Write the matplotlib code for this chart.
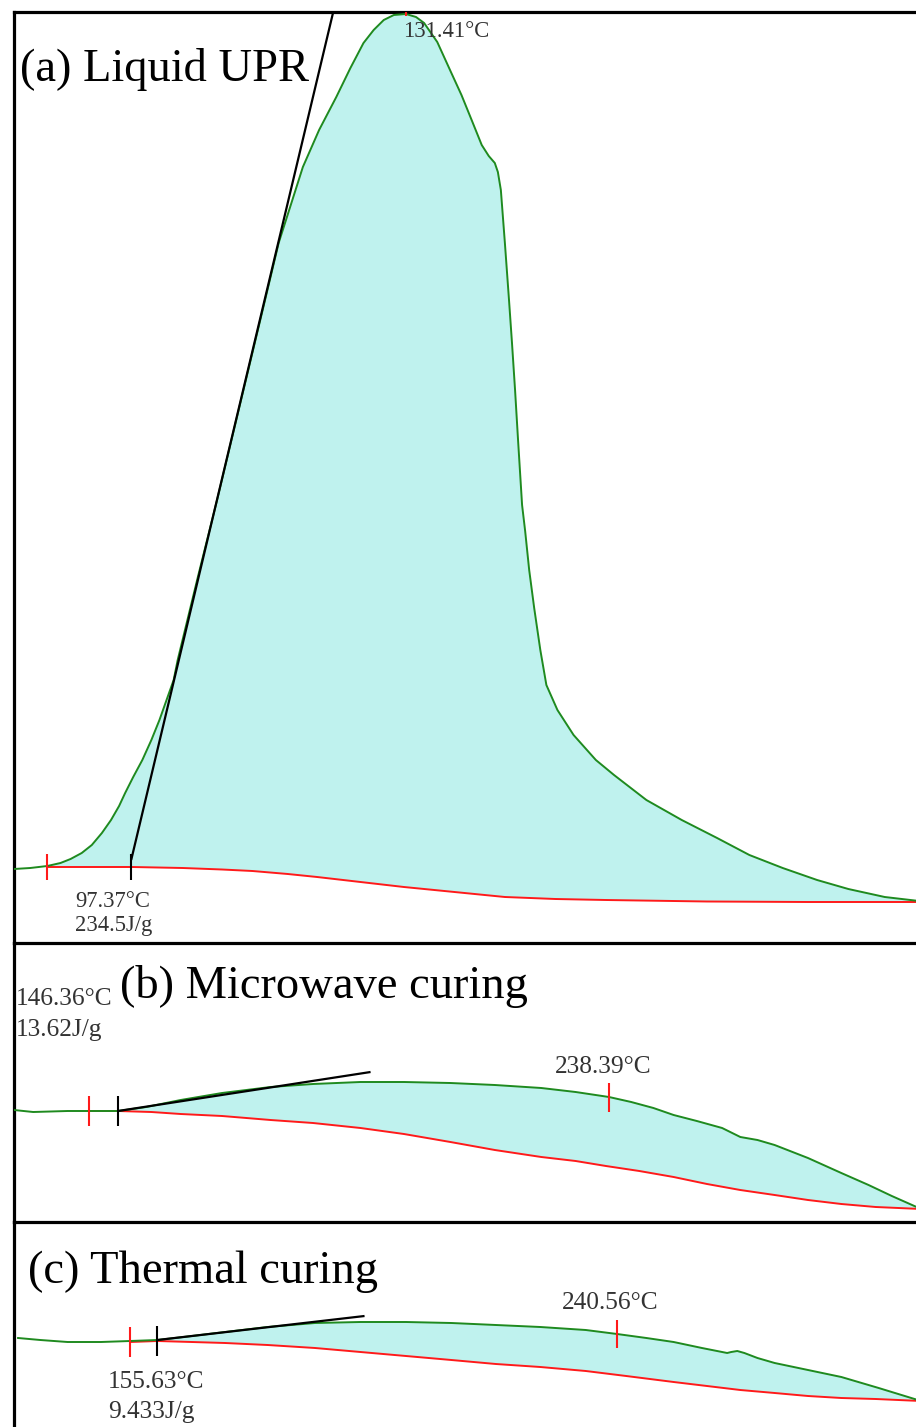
import numpy as np
import matplotlib
matplotlib.use("Agg")
import matplotlib.pyplot as plt

plt.rcParams['font.family'] = ['Liberation Serif', 'DejaVu Serif']

# ---------------- data (temperature in °C, heat flow in arbitrary units) ----------------
# (a) Liquid UPR
a_curve_T = [82.85, 84.86, 86.98, 88.61, 89.86, 91.24, 92.49, 93.74, 94.87, 95.87,
             96.62, 97.62, 98.75, 99.87, 100.87, 101.75, 102.63, 103.13, 105.63, 108.01,
             111.01, 113.51, 115.64, 117.14, 118.64, 120.65, 122.78, 124.53, 126.15, 127.41,
             128.66, 129.91, 131.41, 132.66, 133.66, 135.29, 137.04, 138.29, 139.55, 140.80,
             141.67, 142.42, 142.80, 143.17, 143.67, 144.18, 144.55, 144.93, 145.30, 145.80,
             146.18, 146.68, 147.30, 148.06, 148.81, 150.18, 152.18, 154.94, 157.19, 161.20,
             165.58, 169.96, 173.96, 178.09, 182.35, 186.22, 190.73, 194.98, 195.74]
a_curve_H = [74, 75, 77, 80, 84, 90, 98, 110, 123, 137,
             150, 166, 183, 203, 223, 243, 263, 283, 366, 443,
             544, 628, 700, 738, 776, 813, 846, 875, 900, 913,
             923, 928, 929, 926, 920, 901, 870, 848, 823, 798,
             787, 780, 771, 753, 700, 643, 600, 553, 503, 438,
             412, 373, 335, 293, 258, 233, 208, 183, 168, 143,
             123, 105, 88, 75, 63, 54, 46, 42, 41]
a_base_T = [86.98, 92.36, 97.50, 103.75, 108.63, 112.39, 116.77, 120.40, 125.78, 131.16,
            137.42, 143.67, 149.93, 156.19, 168.70, 181.22, 194.98]
a_base_H = [76, 76, 76, 75, 73.5, 72, 69, 66, 61, 56, 51, 46, 44, 43, 41.5, 41, 41]
a_onset_T, a_onset_label, a_enthalpy = 97.37, "97.37°C", "234.5J/g"
a_peak_T, a_peak_label = 131.41, "131.41°C"
a_tangent_T = [97.37, 122.40]
a_tangent_H = [83, 931]
a_limits_T = [86.98, 194.98]

# (b) Microwave curing
b_curve_T = [126.86, 130.45, 136.89, 140.87, 146.36, 151.66, 158.10, 165.86, 174.95, 182.91,
             191.81, 199.95, 208.66, 216.99, 225.70, 232.14, 238.39, 242.56, 246.72, 250.51,
             254.86, 259.60, 263.01, 266.23, 269.44, 275.69, 281.94, 287.05, 291.41, 296.90]
b_curve_H = [112, 110, 111, 111, 111, 115, 122, 129, 135, 138,
             140, 140, 139, 137, 134, 130, 125, 120, 114, 107,
             101, 94, 85, 82, 77, 64, 49, 37, 26, 13]
b_base_T = [140.87, 146.36, 152.61, 158.10, 165.86, 174.95, 182.91, 191.81, 199.95, 208.66,
            216.99, 225.70, 232.14, 237.82, 244.07, 250.51, 256.76, 263.00, 269.44, 275.69,
            281.94, 288.38, 296.90]
b_base_H = [111, 111, 110, 108, 106, 102, 99, 94, 88, 80,
            72, 65, 61, 56, 51, 45, 38, 32, 27, 22,
            18, 15, 13]
b_onset_T, b_onset_label, b_enthalpy = 146.36, "146.36°C", "13.62J/g"
b_peak_T, b_peak_label = 238.39, "238.39°C"
b_tangent_T = [146.36, 193.70]
b_tangent_H = [111, 150]
b_limits_T = [140.87, 296.90]

# (c) Thermal curing
c_curve_T = [129.87, 133.98, 139.02, 145.18, 150.59, 155.63, 161.98, 168.14, 175.98, 184.75,
             193.15, 201.55, 209.95, 218.16, 226.38, 234.78, 240.56, 245.98, 251.02, 256.25,
             260.91, 261.66, 262.78, 264.09, 266.51, 269.69, 275.85, 282.01, 288.91, 296.75]
c_curve_H = [89, 87, 85, 85, 86, 87, 91, 95, 100, 104,
             105, 105, 104, 102, 100, 97, 93, 89, 85, 79,
             74, 75, 76, 74, 69, 64, 57, 50, 39, 26]
c_base_T = [150.59, 155.63, 161.98, 168.14, 175.98, 184.75, 193.15, 201.55, 209.95, 218.16,
            226.38, 234.78, 242.25, 251.02, 257.18, 263.34, 269.69, 275.85, 282.01, 288.35,
            296.75]
c_base_H = [85, 86, 85, 84, 82, 79, 75, 71, 67, 63,
            60, 56, 51, 45, 41, 37, 34, 31, 29, 28,
            26]
c_onset_T, c_onset_label, c_enthalpy = 155.63, "155.63°C", "9.433J/g"
c_peak_T, c_peak_label = 240.56, "240.56°C"
c_tangent_T = [155.63, 193.90]
c_tangent_H = [87, 111]
c_limits_T = [150.59, 296.75]

titles = ["(a) Liquid UPR", "(b) Microwave curing", "(c) Thermal curing"]

# ---------------- styling ----------------
W, H = 916, 1427
GREEN = "#1f8a1f"
RED = "#ff1a1a"
FILL = "#bff2ee"
TXT = "#333333"

fig = plt.figure(figsize=(W / 100, H / 100), dpi=100)


def make_ax(top_px, bot_px, xlim):
    ax = fig.add_axes([14 / W, (H - bot_px) / H, (916 - 14) / W + 0.01, (bot_px - top_px) / H])
    ax.set_xlim(*xlim)
    ax.set_ylim(0, bot_px - top_px)
    ax.set_xticks([])
    ax.set_yticks([])
    for s in ["right", "bottom"]:
        ax.spines[s].set_visible(False)
    for s in ["left", "top"]:
        ax.spines[s].set_linewidth(2.3)
        ax.spines[s].set_color("black")
    ax.patch.set_alpha(0)
    return ax


def draw_panel(ax, cT, cH, bT, bH, tT, tH, onsetT, peakT, lims, tick_half, peak_tick, end_tick):
    cT = np.asarray(cT); cH = np.asarray(cH)
    bT = np.asarray(bT); bH = np.asarray(bH)
    m = (cT >= lims[0] - 1e-6) & (cT <= lims[1] + 1e-6)
    ax.fill(np.concatenate([cT[m], bT[::-1]]), np.concatenate([cH[m], bH[::-1]]),
            color=FILL, lw=0, zorder=1)
    ax.plot(bT, bH, color=RED, lw=1.4, zorder=3, solid_joinstyle="round")
    ax.plot(cT, cH, color=GREEN, lw=1.4, zorder=3, solid_joinstyle="round")
    ax.plot(tT, tH, color="black", lw=1.6, zorder=4, solid_capstyle="butt")
    y0 = np.interp(lims[0], bT, bH)
    ax.vlines(lims[0], y0 - tick_half[0], y0 + tick_half[1], color=RED, lw=1.5, zorder=5)
    yo = np.interp(onsetT, bT, bH)
    ax.vlines(onsetT, yo - tick_half[0], yo + tick_half[1], color="black", lw=1.5, zorder=5)
    yp = np.interp(peakT, cT, cH)
    ax.vlines(peakT, yp - peak_tick[0], yp + peak_tick[1], color=RED, lw=1.5, zorder=5)
    ye = np.interp(lims[1], bT, bH)
    ax.vlines(lims[1], ye - end_tick[0], ye + end_tick[1], color=RED, lw=1.5, zorder=5)


def ftext(xpx, ypx, s, size, color=TXT, **kw):
    fig.text(xpx / W, 1 - ypx / H, s, fontsize=size, color=color, va="baseline", ha="left", **kw)


ax_a = make_ax(12, 943, (82.85, 195.74))
draw_panel(ax_a, a_curve_T, a_curve_H, a_base_T, a_base_H, a_tangent_T, a_tangent_H,
           a_onset_T, a_peak_T, a_limits_T, (13, 13), (2, 14), (13, 13))
ax_b = make_ax(943, 1222, (126.86, 297.66))
draw_panel(ax_b, b_curve_T, b_curve_H, b_base_T, b_base_H, b_tangent_T, b_tangent_H,
           b_onset_T, b_peak_T, b_limits_T, (15, 15), (15, 14), (11, 14))
ax_c = make_ax(1222, 1427, (129.12, 297.50))
draw_panel(ax_c, c_curve_T, c_curve_H, c_base_T, c_base_H, c_tangent_T, c_tangent_H,
           c_onset_T, c_peak_T, c_limits_T, (15, 15), (14, 14), (28, 16))

# titles
ftext(20, 81, titles[0], 33.5, color="black")
ftext(120, 998, titles[1], 33.5, color="black")
ftext(28, 1283, titles[2], 33.5, color="black")

# annotations
ftext(403, 37, a_peak_label, 16.3)
ftext(75, 907, a_onset_label, 16.3)
ftext(75, 931, a_enthalpy, 16.3)

ftext(16, 1005, b_onset_label, 18.3)
ftext(16, 1036, b_enthalpy, 18.3)
ftext(555, 1073, b_peak_label, 18.3)

ftext(562, 1309, c_peak_label, 18.3)
ftext(108, 1388, c_onset_label, 18.3)
ftext(108, 1418, c_enthalpy, 18.3)

fig.savefig("out.png", dpi=100)
